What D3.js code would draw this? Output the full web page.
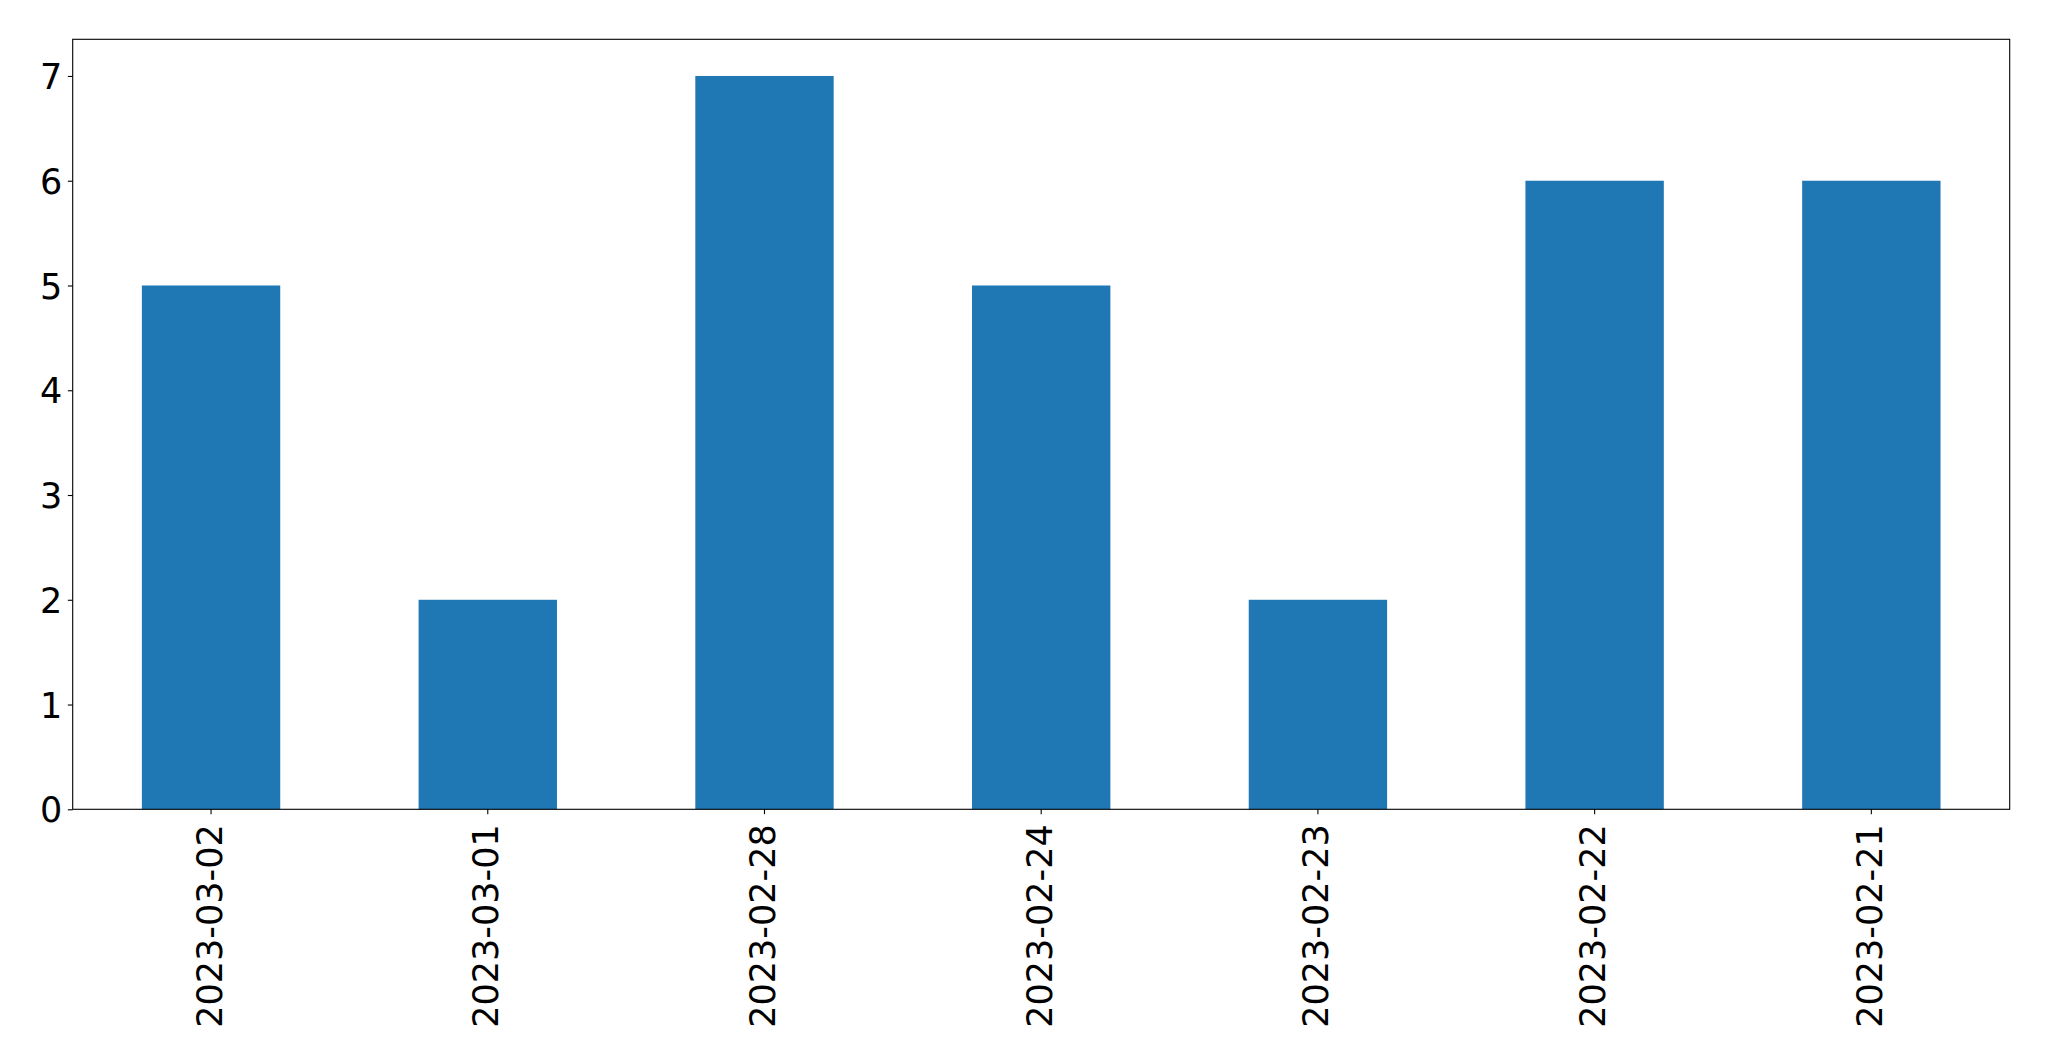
<!DOCTYPE html>
<html><head><meta charset="utf-8">
<script src="https://cdn.jsdelivr.net/npm/d3@7"></script>
<style>
html,body{margin:0;padding:0;background:#fff;}
svg{display:block;}
</style></head>
<body>
<svg id="chart" width="2049" height="1061"></svg>
<script>
const categories = ["2023-03-02","2023-03-01","2023-02-28","2023-02-24","2023-02-23","2023-02-22","2023-02-21"];
const values = [5,2,7,5,2,6,6];
const yTicks = [0,1,2,3,4,5,6,7];

(function(){
const plotLeft = 72.7, plotRight = 2009.7, plotTop = 39.3, plotBottom = 809.3;
const fontSize = 35;
const svg = d3.select("#chart");

const x = d3.scaleBand().domain(categories).range([plotLeft, plotRight]).paddingInner(0.5).paddingOuter(0.25);
const y = d3.scaleLinear().domain([0, d3.max(values) * 1.05]).range([plotBottom, plotTop]);

svg.append("g").selectAll("rect").data(values).join("rect")
  .attr("x", (d,i) => x(categories[i]))
  .attr("width", x.bandwidth())
  .attr("y", d => y(d))
  .attr("height", d => y(0) - y(d))
  .attr("fill", "#1f77b4");

const yAxis = svg.append("g").attr("transform", `translate(${plotLeft},0)`)
  .call(d3.axisLeft(y).tickValues(yTicks).tickFormat(d3.format("d")).tickSize(4.86).tickPadding(5.5));
yAxis.select(".domain").remove();
yAxis.selectAll(".tick line").attr("stroke","#000").attr("stroke-width",1.1);
yAxis.selectAll(".tick text").attr("font-family","DejaVu Sans").attr("font-size",fontSize).attr("fill","#000").attr("dy","0.36em");

const xAxis = svg.append("g").attr("transform", `translate(0,${plotBottom})`)
  .call(d3.axisBottom(x).tickSize(4.86).tickPadding(0));
xAxis.select(".domain").remove();
xAxis.selectAll(".tick line").attr("stroke","#000").attr("stroke-width",1.1);
xAxis.selectAll(".tick text")
  .attr("font-family","DejaVu Sans").attr("font-size",fontSize).attr("fill","#000")
  .attr("text-anchor","end")
  .attr("transform","translate(0,15) rotate(-90)")
  .attr("x",0).attr("y",0).attr("dy","0.3em");

svg.append("rect").attr("x",plotLeft).attr("y",plotTop).attr("width",plotRight-plotLeft).attr("height",plotBottom-plotTop)
  .attr("fill","none").attr("stroke","#000").attr("stroke-width",1.1);
})();
</script>
</body></html>
